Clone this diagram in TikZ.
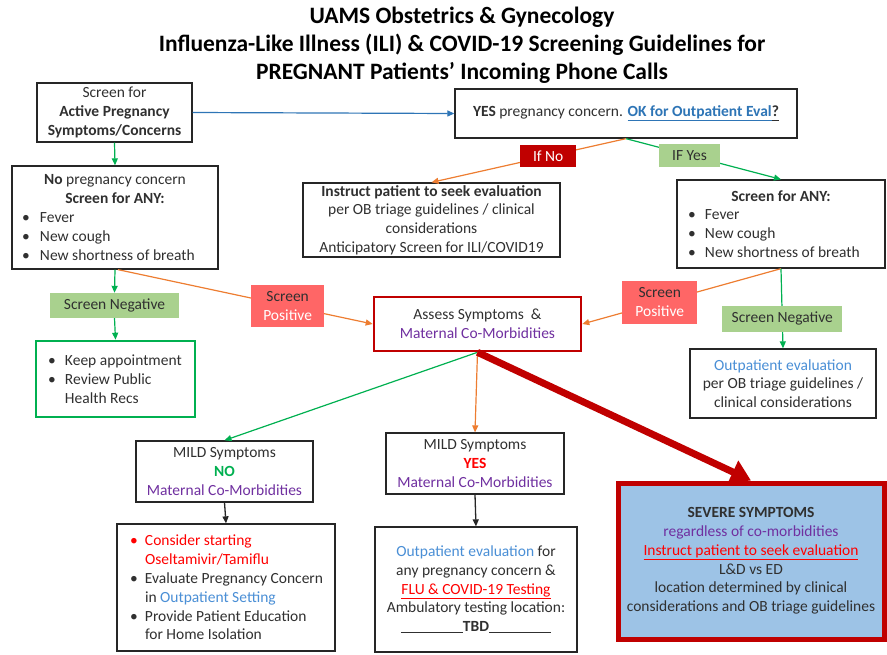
\documentclass[tikz,border=0pt]{standalone}
\usepackage{fontspec}
\setmainfont{Carlito}
\usetikzlibrary{arrows.meta}

\definecolor{boxgray}{HTML}{262626}
\definecolor{txt}{HTML}{303030}
\definecolor{lnorange}{HTML}{ED7D31}
\definecolor{lngreen}{HTML}{00B050}
\definecolor{lnblue}{HTML}{2E75B6}
\definecolor{darkred}{HTML}{C00000}
\definecolor{tagred}{HTML}{FF6666}
\definecolor{taggreen}{HTML}{A9D18E}
\definecolor{sevblue}{HTML}{9DC3E6}
\definecolor{purp}{HTML}{7030A0}
\definecolor{linkblue}{HTML}{2E75B6}
\definecolor{ltblue}{HTML}{4A8FD6}
\definecolor{brightred}{HTML}{FF0000}

\newcommand{\bodyfont}{\fontsize{15.5}{18.8}\selectfont}
\newcommand{\blt}[3][18pt]{\makebox[#2][l]{\makebox[#1][l]{\textbullet}#3}}
\newcommand{\bcont}[3][18pt]{\makebox[#2][l]{\hspace*{#1}#3}}
\newcommand{\uln}[1]{\underline{\vphantom{py}#1}}

\tikzset{
  box/.style={draw=boxgray,line width=1.3pt,fill=white,align=center,
    inner sep=0pt,text=txt,font=\bodyfont},
  tag/.style={align=center,inner sep=0pt,text=txt,font=\bodyfont},
  negtag/.style={tag,fill=taggreen},
  postag/.style={tag,fill=tagred},
  orangeln/.style={lnorange,line width=1.2pt},
  greenln/.style={lngreen,line width=1.2pt},
}

\begin{document}
\begin{tikzpicture}[x=1pt,y=-1pt,>={Triangle[length=7pt,width=6pt]}]
    \useasboundingbox (0,0) rectangle (887,654);

    \path (462,45) node [align=center,font=\fontsize{23.5}{28}\selectfont\bfseries,text=black] (ttl)
     {UAMS Obstetrics \& Gynecology\\Influenza-Like Illness (ILI) \& COVID-19 Screening Guidelines for\\PREGNANT Patients’ Incoming Phone Calls};

    \path (114.5,112.5) node [box,minimum width=155pt,minimum height=59pt] (scr)
     {Screen for\\\textbf{Active Pregnancy}\\\textbf{Symptoms/Concerns}};
    \path (115,217.5) node [box,minimum width=206pt,minimum height=103pt] (nopc)
     {\textbf{No} pregnancy concern\\\textbf{Screen for ANY:}\\
      \blt{186pt}{Fever}\\\blt{186pt}{New cough}\\\blt{186pt}{New shortness of breath}};
    \path (626,113.5) node [box,minimum width=342pt,minimum height=49pt] (yes)
     {\textbf{YES} pregnancy concern. \textcolor{linkblue}{\uln{\textbf{OK for Outpatient Eval}}}\uln{\textbf{?}}};
    \path (431.5,220) node [box,minimum width=257pt,minimum height=74pt] (instr)
     {\textbf{Instruct patient to seek evaluation}\\per OB triage guidelines / clinical\\considerations\\Anticipatory Screen for ILI/COVID19};
    \path (781,224) node [box,minimum width=208pt,minimum height=88pt] (anyr)
     {\textbf{Screen for ANY:}\\
      \blt[17pt]{186pt}{Fever}\\\blt[17pt]{186pt}{New cough}\\\blt[17pt]{186pt}{New shortness of breath}};

    \path (114.5,305.5) node [negtag,minimum width=129pt,minimum height=25pt] (neg1) {Screen Negative};
    \path (115.5,379) node [box,draw=lngreen,line width=2.6pt,minimum width=159pt,minimum height=76pt] (keep)
     {\blt[17pt]{135pt}{Keep appointment}\\\blt[17pt]{135pt}{Review Public}\\\bcont[17pt]{135pt}{Health Recs}};

    \path (477.5,324) node [box,draw=darkred,line width=2.6pt,minimum width=207pt,minimum height=54pt] (assess)
     {Assess Symptoms~ \&\\\textcolor{purp}{Maternal Co-Morbidities}};
    \path (783,383.5) node [box,minimum width=186pt,minimum height=69pt] (outp)
     {\textcolor{ltblue}{Outpatient evaluation}\\per OB triage guidelines /\\clinical considerations};

    \path (224.5,471.5) node [box,minimum width=177pt,minimum height=61pt] (mildno)
     {MILD Symptoms\\\textcolor{lngreen}{\textbf{NO}}\\\textcolor{purp}{Maternal Co-Morbidities}};
    \path (475,463.5) node [box,minimum width=178pt,minimum height=61pt] (mildyes)
     {MILD Symptoms\\\textcolor{brightred}{\textbf{YES}}\\\textcolor{purp}{Maternal Co-Morbidities}};
    \path (226,587.5) node [box,minimum width=218pt,minimum height=127pt] (consider)
     {\textcolor{brightred}{\blt[15pt]{192pt}{Consider starting}}\\\textcolor{brightred}{\bcont[15pt]{192pt}{Oseltamivir/Tamiflu}}\\
      \blt[15pt]{192pt}{Evaluate Pregnancy Concern}\\\bcont[15pt]{192pt}{in \textcolor{ltblue}{Outpatient Setting}}\\
      \blt[15pt]{192pt}{Provide Patient Education}\\\bcont[15pt]{192pt}{for Home Isolation}};
    \path (476,589.5) node [box,minimum width=202pt,minimum height=125pt] (outp2)
     {\textcolor{ltblue}{Outpatient evaluation} for\\any pregnancy concern \&\\\textcolor{brightred}{\uln{FLU \& COVID-19 Testing}}\\Ambulatory testing location:\\
      \rule[-1.5pt]{62pt}{0.9pt}\textbf{TBD}\rule[-1.5pt]{62pt}{0.9pt}};
    \path (751,561) node [box,fill=sevblue,draw=darkred,line width=5pt,minimum width=266pt,minimum height=156pt] (severe)
     {\textbf{SEVERE SYMPTOMS}\\\textcolor{purp}{regardless of co-morbidities}\\\textcolor{brightred}{\uln{Instruct patient to seek evaluation}}\\
      L\&D vs ED\\location determined by clinical\\considerations and OB triage guidelines};

    \draw [->,lnblue,line width=1.2pt] (scr.east) -- (yes.west);
    \draw [->,greenln] (scr.south) -- (nopc.north);
    \draw [->,orangeln] (yes.south) -- (instr.north)
     node [tag,fill=darkred,text=white,minimum width=56pt,minimum height=22pt,pos=.4] (ifno) {If No};
    \draw [->,greenln] (yes.south) -- (anyr.north)
     node [negtag,minimum width=61pt,minimum height=23pt,pos=.41] (ifyes) {IF Yes};

    \draw [->,greenln] (nopc.south) -- (neg1.north);
    \draw [->,greenln] (neg1.south) -- (keep.north);
    \draw [->,orangeln] ([xshift=3pt]nopc.south) -- (assess.west)
     node [postag,minimum width=73pt,minimum height=42pt,pos=.666] (pos1) {Screen\\\textcolor{white}{Positive}};
    \draw [->,orangeln] (anyr.south) -- (assess.east)
     node [postag,minimum width=75pt,minimum height=43pt,pos=.61] (pos2) {Screen\\\textcolor{white}{Positive}};
    \draw [->,greenln] (anyr.south) -- (outp.north)
     node [negtag,minimum width=120pt,minimum height=26pt,pos=.63] (neg2) {Screen Negative};

    \draw [->,greenln] (assess.south) -- (mildno.north);
    \draw [->,orangeln] (assess.south) -- (mildyes.north);
    \draw [-{Triangle[length=20pt,width=24pt]},darkred,line width=7pt] (assess.south) -- (severe.north);
    \draw [->,boxgray,line width=1.3pt] (mildno.south) -- (consider.north);
    \draw [->,boxgray,line width=1.3pt] (mildyes.south) -- (outp2.north);
\end{tikzpicture}
\end{document}
